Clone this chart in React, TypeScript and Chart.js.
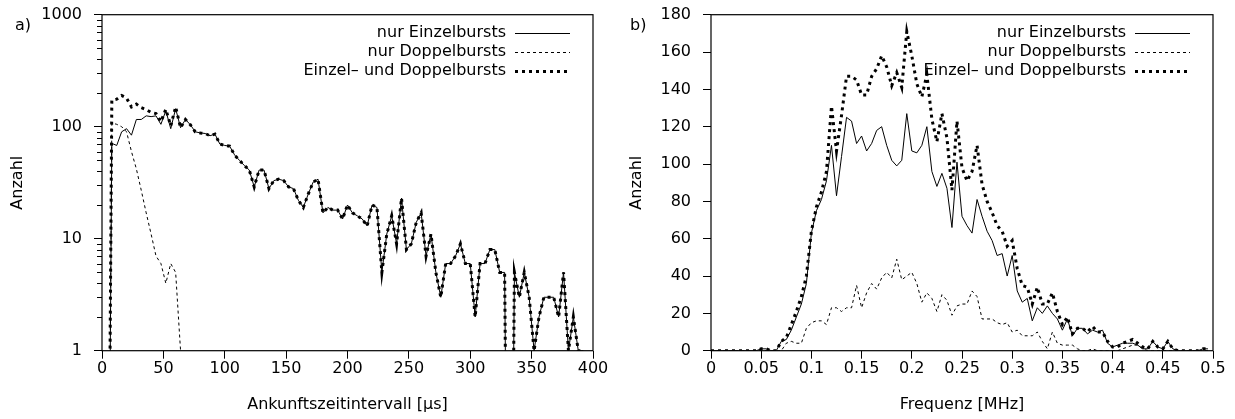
import React, { useEffect, useRef } from 'react';
import { Chart, registerables } from 'chart.js';

Chart.register(...registerables);

const FONT_FAMILY = "'DejaVu Sans', sans-serif";
const FONT_SIZE = 16;
const LOG_FLOOR = 1e-4; // zero counts are pushed below the log axis (clipped)

// ---------------- Panel a) Ankunftszeitintervall ----------------
const binWidthA = 4; // µs
const einzelA = [
  0, 0, 71, 68, 90, 96, 84, 116, 116, 125,
  123, 125, 105, 139, 96, 145, 98, 116, 104, 90,
  88, 87, 83, 86, 70, 68, 67, 56, 50, 45,
  41, 29, 41, 41, 28, 33, 34, 33, 29, 28,
  22, 19, 25, 32, 34, 17, 19, 18, 18, 15,
  20, 17, 16, 15, 13, 20, 19, 5, 11, 16,
  9, 23, 8, 9, 14, 17, 7, 11, 5, 3,
  6, 6, 7, 9, 6, 6, 2, 6, 6, 8,
  8, 5, 5, 0, 5, 3, 5, 3, 1, 2,
  3, 3, 3, 2, 5, 1, 2, 1, 1, 0,
];
const doppelA = [
  0, 0, 108, 105, 100, 90, 60, 42, 27, 17,
  11, 7, 6, 4, 6, 5, 1, 0, 0, 0,
  0, 0, 0, 0, 0, 0, 0, 0, 0, 0,
  0, 0, 0, 0, 0, 0, 0, 0, 0, 0,
  0, 0, 0, 0, 0, 0, 0, 0, 0, 0,
  0, 0, 0, 0, 0, 0, 0, 0, 0, 0,
  0, 0, 0, 0, 0, 0, 0, 0, 0, 0,
  0, 0, 0, 0, 0, 0, 0, 0, 0, 0,
  0, 0, 0, 0, 0, 0, 0, 0, 0, 0,
  0, 0, 0, 0, 0, 0, 0, 0, 0, 0,
];
const summeA = [
  0, 0, 172, 176, 190, 180, 150, 159, 148, 142,
  134, 131, 111, 143, 102, 150, 98, 116, 104, 90,
  88, 87, 83, 86, 70, 68, 67, 56, 50, 45,
  41, 29, 41, 41, 28, 33, 34, 33, 29, 28,
  22, 19, 25, 32, 34, 17, 19, 18, 18, 15,
  20, 17, 16, 15, 13, 20, 19, 5, 11, 16,
  9, 23, 8, 9, 14, 17, 7, 11, 5, 3,
  6, 6, 7, 9, 6, 6, 2, 6, 6, 8,
  8, 5, 5, 0, 5, 3, 5, 3, 1, 2,
  3, 3, 3, 2, 5, 1, 2, 1, 1, 0,
];
const xTicksA = [0, 50, 100, 150, 200, 250, 300, 350, 400];
const yMajorTicksA = [1, 10, 100, 1000];
const yMinorMantissasA = [2, 3, 4, 5, 6, 7, 8, 9];

// ---------------- Panel b) Frequenz ----------------
const binWidthB = 0.005; // MHz
const einzelB = [
  0, 0, 0, 0, 0, 0, 0, 0, 0, 0,
  1, 1, 0, 0, 5, 6, 11, 18, 25, 36,
  63, 75, 81, 91, 110, 83, 104, 125, 123, 111,
  115, 107, 111, 118, 120, 110, 102, 99, 102, 127,
  107, 106, 110, 120, 96, 88, 95, 87, 66, 101,
  72, 67, 63, 81, 72, 64, 59, 51, 52, 40,
  51, 32, 26, 28, 16, 23, 20, 24, 20, 17,
  11, 17, 8, 12, 12, 9, 11, 10, 11, 4,
  2, 3, 4, 4, 4, 3, 1, 1, 5, 2,
  1, 5, 1, 0, 0, 0, 0, 0, 1, 1,
];
const doppelB = [
  0, 0, 0, 0, 0, 0, 0, 0, 0, 0,
  0, 0, 0, 0, 0, 4, 5, 4, 4, 12,
  15, 16, 16, 14, 23, 23, 21, 23, 23, 35,
  23, 31, 36, 33, 39, 42, 39, 49, 38, 40,
  42, 36, 26, 31, 28, 21, 30, 27, 19, 24,
  25, 25, 32, 29, 17, 17, 17, 15, 14, 15,
  10, 11, 8, 8, 8, 10, 5, 1, 10, 4,
  3, 3, 3, 1, 0, 0, 1, 0, 0, 0,
  0, 0, 1, 2, 3, 3, 1, 0, 0, 0,
  0, 0, 0, 0, 0, 0, 0, 0, 0, 0,
];
const summeB = [
  0, 0, 0, 0, 0, 0, 0, 0, 0, 0,
  1, 1, 0, 0, 5, 7, 14, 21, 29, 40,
  64, 77, 85, 96, 131, 107, 126, 147, 147, 145,
  137, 137, 147, 151, 158, 152, 142, 149, 141, 171,
  158, 143, 136, 148, 124, 112, 127, 114, 86, 123,
  98, 91, 96, 110, 89, 80, 74, 67, 64, 56,
  59, 44, 35, 34, 25, 34, 25, 25, 31, 21,
  14, 18, 9, 12, 12, 10, 13, 10, 10, 5,
  2, 2, 4, 5, 6, 4, 2, 1, 5, 2,
  1, 5, 1, 0, 0, 0, 0, 0, 1, 1,
];
const xTicksB = [0, 0.05, 0.1, 0.15, 0.2, 0.25, 0.3, 0.35, 0.4, 0.45, 0.5];
const yTicksB = [0, 20, 40, 60, 80, 100, 120, 140, 160, 180];

const seriesLabels = ['nur Einzelbursts', 'nur Doppelbursts', 'Einzel\u2013 und Doppelbursts'];

// styles (kept apart from the data)
const seriesStyles = [
  { borderWidth: 1, borderDash: [] as number[], order: 3 },
  { borderWidth: 1, borderDash: [3, 3], order: 2 },
  { borderWidth: 3, borderDash: [3, 4], order: 1 },
];

const font = { family: FONT_FAMILY, size: FONT_SIZE };

type PanelCfg = {
  canvasWidth: number;
  plotLeft: number;
  padRight: number;
  panelLabel: string;
  panelLabelX: number;
  xTitle: string;
  xMin: number;
  xMax: number;
  xTicks: number[];
  yLog: boolean;
  yMin: number;
  yMax: number;
  yTicks: number[];
  yTitlePad: number;
  binWidth: number;
  series: number[][];
};

const fmt = (v: number) => String(+Number(v).toFixed(3));

function decorPlugin(cfg: PanelCfg) {
  return {
    id: 'decor',
    afterDraw(chart: any) {
      const { ctx, chartArea: ca } = chart;
      ctx.save();
      ctx.strokeStyle = '#000';
      ctx.lineWidth = 1.2;
      ctx.setLineDash([]);
      ctx.strokeRect(ca.left, ca.top, ca.right - ca.left, ca.bottom - ca.top);

      // minor ticks of the log axis
      if (cfg.yLog) {
        const ys = chart.scales.y;
        ctx.lineWidth = 1;
        for (let d = 0; d < 3; d++) {
          for (const m of yMinorMantissasA) {
            const py = Math.round(ys.getPixelForValue(m * Math.pow(10, d))) + 0.5;
            ctx.beginPath();
            ctx.moveTo(ca.left - 5, py);
            ctx.lineTo(ca.left, py);
            ctx.stroke();
          }
        }
      }

      // key
      ctx.font = `${FONT_SIZE}px ${FONT_FAMILY}`;
      ctx.fillStyle = '#000';
      ctx.textAlign = 'right';
      ctx.textBaseline = 'middle';
      const textRight = ca.right - 87;
      chart.data.datasets.forEach((ds: any, i: number) => {
        const y = ca.top + 18 + 19 * i;
        ctx.fillText(ds.label, textRight, y);
        ctx.save();
        ctx.strokeStyle = '#000';
        ctx.lineWidth = ds.borderWidth;
        ctx.setLineDash(ds.borderDash || []);
        ctx.beginPath();
        ctx.moveTo(ca.right - 78, Math.round(y) + 0.5);
        ctx.lineTo(ca.right - 23, Math.round(y) + 0.5);
        ctx.stroke();
        ctx.restore();
      });

      // panel label
      ctx.textAlign = 'left';
      ctx.textBaseline = 'alphabetic';
      ctx.fillText(cfg.panelLabel, cfg.panelLabelX, 30);
      ctx.restore();
    },
  };
}

function buildConfig(cfg: PanelCfg): any {
  const datasets = cfg.series.map((vals, si) => ({
    label: seriesLabels[si],
    data: vals.map((v, i) => ({
      x: i * cfg.binWidth,
      y: cfg.yLog && v === 0 ? LOG_FLOOR : v,
    })),
    borderColor: '#000',
    backgroundColor: '#000',
    borderWidth: seriesStyles[si].borderWidth,
    borderDash: seriesStyles[si].borderDash,
    order: seriesStyles[si].order,
    pointRadius: 0,
    fill: false,
    tension: 0,
  }));

  return {
    type: 'line',
    data: { datasets },
    options: {
      responsive: false,
      animation: false,
      devicePixelRatio: 1,
      layout: { padding: { left: 0, right: cfg.padRight, top: 14.7, bottom: 0 } },
      plugins: {
        legend: { display: false },
        tooltip: { enabled: false },
        title: { display: false },
      },
      scales: {
        x: {
          type: 'linear',
          min: cfg.xMin,
          max: cfg.xMax,
          afterFit: (s: any) => {
            s.height = 68.3;
            s.paddingLeft = 0;
            s.paddingRight = 0;
          },
          afterBuildTicks: (s: any) => {
            s.ticks = cfg.xTicks.map((v) => ({ value: v }));
          },
          grid: {
            drawOnChartArea: false,
            drawTicks: true,
            tickLength: 8,
            color: '#000',
            lineWidth: 1,
          },
          border: { display: false },
          ticks: {
            autoSkip: false,
            maxRotation: 0,
            padding: 1,
            color: '#000',
            font,
            callback: (v: any) => fmt(v),
          },
          title: {
            display: true,
            text: cfg.xTitle,
            color: '#000',
            font,
            padding: { top: 0, bottom: 4.4 },
          },
        },
        y: {
          type: cfg.yLog ? 'logarithmic' : 'linear',
          min: cfg.yMin,
          max: cfg.yMax,
          afterFit: (s: any) => {
            s.width = cfg.plotLeft;
            s.paddingTop = 0;
            s.paddingBottom = 0;
          },
          afterBuildTicks: (s: any) => {
            s.ticks = cfg.yTicks.map((v) => ({ value: v }));
          },
          grid: {
            drawOnChartArea: false,
            drawTicks: true,
            tickLength: 8,
            color: '#000',
            lineWidth: 1,
          },
          border: { display: false },
          ticks: {
            autoSkip: false,
            padding: 12,
            color: '#000',
            font,
            callback: (v: any) => fmt(v),
          },
          title: {
            display: true,
            text: 'Anzahl',
            color: '#000',
            font,
            padding: { top: cfg.yTitlePad, bottom: 0 },
          },
        },
      },
    },
    plugins: [decorPlugin(cfg)],
  };
}

const panelA: PanelCfg = {
  canvasWidth: 617,
  plotLeft: 102,
  padRight: 24,
  panelLabel: 'a)',
  panelLabelX: 15,
  xTitle: 'Ankunftszeitintervall [\u00b5s]',
  xMin: 0,
  xMax: 400,
  xTicks: xTicksA,
  yLog: true,
  yMin: 1,
  yMax: 1000,
  yTicks: yMajorTicksA,
  yTitlePad: 8.4,
  binWidth: binWidthA,
  series: [einzelA, doppelA, summeA],
};

const panelB: PanelCfg = {
  canvasWidth: 618,
  plotLeft: 94,
  padRight: 22,
  panelLabel: 'b)',
  panelLabelX: 13,
  xTitle: 'Frequenz [MHz]',
  xMin: 0,
  xMax: 0.5,
  xTicks: xTicksB,
  yLog: false,
  yMin: 0,
  yMax: 180,
  yTicks: yTicksB,
  yTitlePad: 10.4,
  binWidth: binWidthB,
  series: [einzelB, doppelB, summeB],
};

function Panel({ cfg, left }: { cfg: PanelCfg; left: number }) {
  const ref = useRef<HTMLCanvasElement>(null);
  useEffect(() => {
    if (!ref.current) return;
    const chart = new Chart(ref.current, buildConfig(cfg));
    return () => chart.destroy();
  }, [cfg]);
  return (
    <canvas
      ref={ref}
      width={cfg.canvasWidth}
      height={419}
      style={{ position: 'absolute', left, top: 0, width: cfg.canvasWidth, height: 419 }}
    />
  );
}

export default function App() {
  return (
    <div
      style={{
        position: 'absolute',
        left: 0,
        top: 0,
        width: 1235,
        height: 419,
        background: '#fff',
        overflow: 'hidden',
      }}
    >
      <Panel cfg={panelA} left={0} />
      <Panel cfg={panelB} left={617} />
    </div>
  );
}
